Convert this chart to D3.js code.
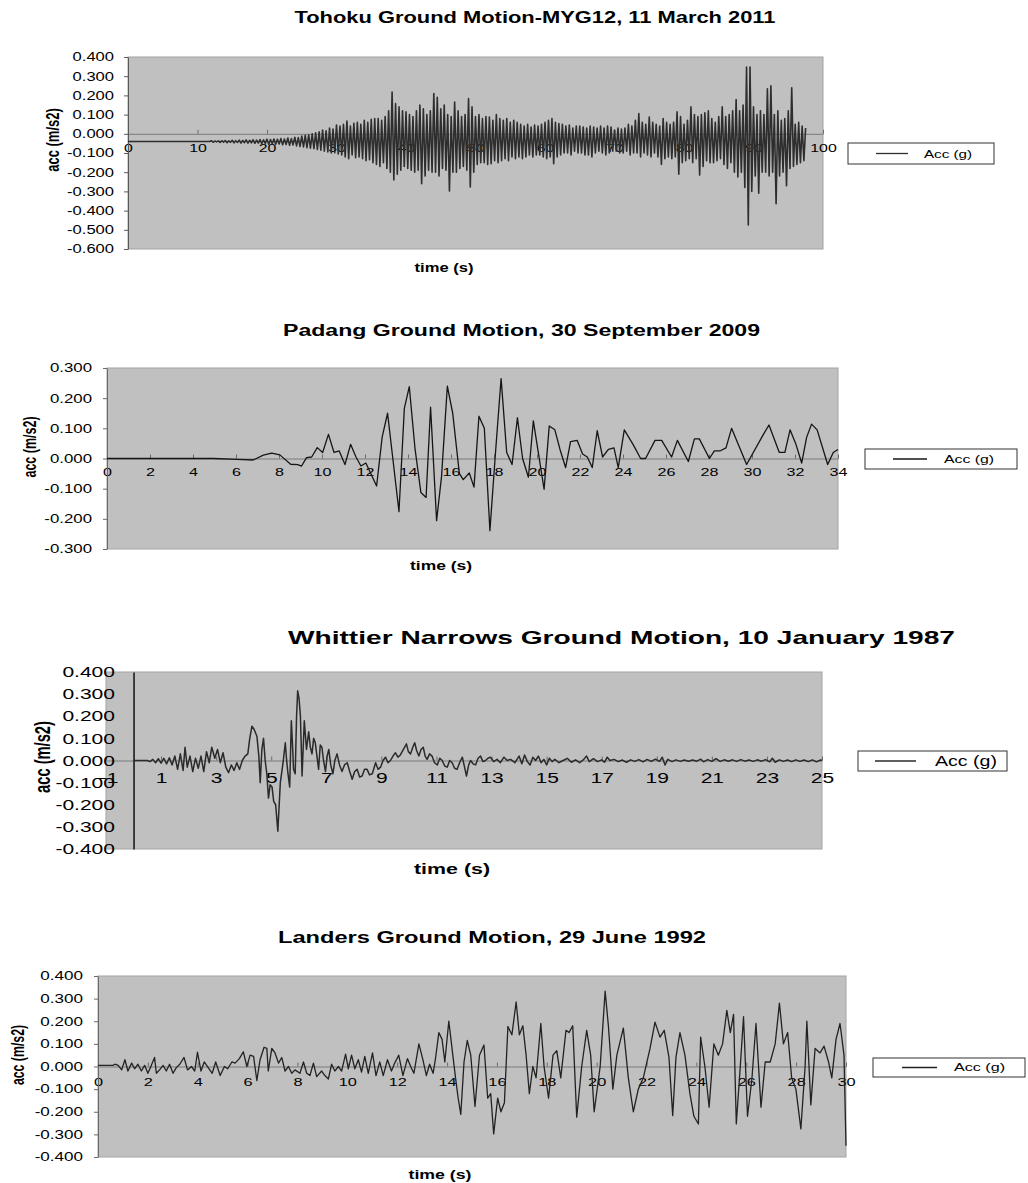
<!DOCTYPE html>
<html>
<head>
<meta charset="utf-8">
<script src="https://cdn.jsdelivr.net/npm/d3@7"></script>
<style>
  body { margin: 0; background: #fff; }
  svg { display: block; }
  text { font-family: "Liberation Sans", Arial, sans-serif; fill: #000; }
</style>
</head>
<body>
<svg id="fig" width="1028" height="1183"></svg>
<script>

// ---- Tohoku MYG12 record, sampled every 0.25 s from t = 0
var tohokuDt = 0.25;
var tohokuAcc = [
  -.04,-.04,-.04,-.04,-.04,-.04,-.04,-.04,
  -.04,-.04,-.04,-.04,-.04,-.04,-.04,-.04,
  -.04,-.04,-.04,-.04,-.04,-.04,-.04,-.04,
  -.04,-.04,-.04,-.04,-.04,-.04,-.04,-.04,
  -.04,-.04,-.04,-.04,-.04,-.04,-.04,-.04,
  -.04,-.04,-.04,-.04,-.04,-.04,-.04,-.04,
  -.036,-.044,-.038,-.042,-.037,-.045,-.036,-.043,
  -.035,-.046,-.037,-.044,-.034,-.047,-.036,-.045,
  -.033,-.048,-.035,-.046,-.032,-.049,-.034,-.047,
  -.031,-.05,-.033,-.048,-.03,-.052,-.032,-.05,
  -.028,-.054,-.03,-.052,-.027,-.055,-.029,-.053,
  -.025,-.057,-.027,-.056,-.022,-.06,-.025,-.058,
  -.018,-.063,-.02,-.066,-.012,-.068,-.008,-.072,
  -.005,-.075,0,-.078,.005,-.082,.01,-.085,
  .02,-.09,.015,-.095,.03,-.1,.025,-.098,
  .045,-.105,.04,-.11,.05,-.12,.067,-.13,
  .04,-.11,.055,-.125,.06,-.12,.05,-.13,
  .07,-.14,.06,-.135,.075,-.15,.08,-.16,
  .08,-.17,.07,-.15,.09,-.18,.12,-.2,
  .218,-.24,.157,-.21,.14,-.19,.12,-.17,
  .114,-.18,.1,-.19,.09,-.2,.12,-.19,
  .15,-.26,.13,-.22,.1,-.19,.12,-.2,
  .21,-.2,.19,-.22,.13,-.18,.15,-.19,
  .1,-.298,.09,-.2,.165,-.2,.12,-.18,
  .09,-.17,.1,-.19,.183,-.277,.14,-.2,
  .09,-.16,.1,-.15,.08,-.15,.09,-.16,
  .087,-.156,.07,-.14,.1,-.15,.08,-.14,
  .07,-.13,.08,-.14,.06,-.12,.07,-.13,
  .06,-.12,.05,-.13,.04,-.12,.05,-.11,
  .035,-.12,.045,-.11,.04,-.11,.05,-.12,
  .06,-.13,.07,-.12,.08,-.156,.06,-.12,
  .053,-.11,.05,-.1,.04,-.1,.045,-.11,
  .03,-.09,.04,-.1,.04,-.1,.035,-.11,
  .03,-.11,.04,-.12,.035,-.1,.03,-.09,
  .04,-.1,.03,-.11,.04,-.1,.035,-.09,
  .02,-.09,.03,-.1,.025,-.1,.03,-.09,
  .05,-.11,.04,-.1,.07,-.1,.105,-.12,
  .06,-.1,.05,-.11,.087,-.12,.06,-.1,
  .05,-.12,.04,-.16,.08,-.13,.06,-.12,
  .05,-.13,.06,-.12,.114,-.21,.09,-.15,
  .05,-.14,.07,-.13,.14,-.15,.1,-.13,
  .09,-.215,.1,-.17,.11,-.14,.12,-.15,
  .08,-.15,.06,-.14,.09,-.13,.14,-.16,
  .09,-.18,.1,-.15,.12,-.2,.178,-.225,
  .12,-.2,.15,-.28,.348,-.475,.348,-.3,
  .14,-.22,.1,-.31,.12,-.2,.1,-.2,
  .235,-.22,.25,-.2,.1,-.364,.12,-.22,
  .07,-.2,.08,-.27,.12,-.18,.24,-.17,
  .05,-.16,.06,-.15,.04,-.14,.03
];
var tohokuXTicks = [0, 10, 20, 30, 40, 50, 60, 70, 80, 90, 100];
var tohokuYTicks = [-0.6, -0.5, -0.4, -0.3, -0.2, -0.1, 0, 0.1, 0.2, 0.3, 0.4];

// ---- Padang record [time s, acc]
var padangRecord = [
  [0,0],[4.95,0],[6.05,-.003],[6.8,-.005],[7.27,.011],[7.66,.018],[8.04,.012],[8.54,-.019],
  [8.87,-.02],[9.05,-.025],[9.28,.003],[9.52,.005],[9.78,.036],[10.03,.02],[10.3,.08],[10.56,.02],
  [10.8,.025],[11.07,-.02],[11.33,.047],[11.58,.005],[11.81,-.025],[12.04,-.015],[12.54,-.091],[12.8,.072],
  [13.05,.15],[13.58,-.176],[13.83,.166],[14.06,.238],[14.33,.03],[14.6,-.113],[14.84,-.129],[15.05,.17],
  [15.33,-.206],[15.56,-.06],[15.83,.24],[16.08,.15],[16.39,-.05],[16.57,-.07],[16.85,-.048],[17.07,-.095],
  [17.3,.14],[17.55,.1],[17.81,-.239],[18.08,.03],[18.33,.265],[18.59,.02],[18.84,-.02],[19.09,.135],
  [19.33,0],[19.6,-.062],[19.83,.125],[20.06,.02],[20.33,-.102],[20.57,.108],[20.83,.095],[21.07,.03],
  [21.33,-.03],[21.56,.056],[21.87,.06],[22.12,.015],[22.34,.005],[22.57,-.03],[22.8,.092],[23.05,.005],
  [23.32,.03],[23.58,.035],[23.78,-.03],[24.06,.095],[24.48,.045],[24.82,0],[25.05,0],[25.49,.06],
  [25.8,.06],[26.26,.005],[26.53,.06],[27.04,-.01],[27.32,.065],[27.55,.065],[28.02,0],[28.25,.025],
  [28.51,.025],[28.79,.035],[29.05,.1],[29.75,-.02],[30.53,.08],[30.79,.111],[31.27,.02],[31.53,.02],
  [31.77,.095],[32.03,.05],[32.31,-.015],[32.54,.07],[32.77,.114],[33.03,.095],[33.52,-.02],[33.78,.02],
  [34,.03]
];
var padangXTicks = [0, 2, 4, 6, 8, 10, 12, 14, 16, 18, 20, 22, 24, 26, 28, 30, 32, 34];
var padangYTicks = [-0.3, -0.2, -0.1, 0, 0.1, 0.2, 0.3];

// ---- Whittier Narrows record [time s, acc]
var whittierRecord = [
  [0,0],[0.5,0],[0.6,-.005],[0.7,.005],[0.8,-.01],[0.9,.008],[1,-.012],[1.1,.01],[1.2,-.015],[1.3,.012],
  [1.4,-.02],[1.5,.02],[1.6,-.04],[1.7,.03],[1.8,-.045],[1.87,.06],[1.95,-.03],[2.05,.02],[2.15,-.05],[2.25,.01],
  [2.35,-.035],[2.45,.02],[2.55,-.05],[2.65,.04],[2.75,-.01],[2.84,.06],[2.95,.01],[3.05,.05],[3.15,-.01],[3.25,.035],
  [3.35,-.03],[3.45,-.055],[3.55,-.02],[3.65,-.045],[3.75,-.01],[3.85,-.04],[3.95,0],[4.05,.02],[4.15,.03],[4.22,.1],
  [4.3,.155],[4.38,.14],[4.48,.11],[4.55,.02],[4.6,-.1],[4.66,.05],[4.72,.1],[4.78,0],[4.84,-.06],[4.9,-.17],
  [4.96,-.11],[5.03,-.12],[5.09,-.185],[5.16,-.2],[5.24,-.32],[5.33,-.1],[5.43,-.01],[5.51,.08],[5.56,0],[5.6,-.05],
  [5.67,-.12],[5.73,.18],[5.78,.05],[5.81,-.04],[5.87,-.06],[5.92,.2],[5.96,.315],[6.01,.28],[6.06,.2],[6.12,-.07],
  [6.2,.18],[6.28,.05],[6.36,.13],[6.42,.06],[6.48,.03],[6.54,.1],[6.6,.08],[6.66,.02],[6.72,-.04],[6.78,.07],
  [6.84,.06],[6.9,0],[6.97,-.05],[7.03,.02],[7.09,.05],[7.16,-.02],[7.24,-.06],[7.31,0],[7.39,.03],[7.48,-.02],
  [7.57,-.05],[7.66,-.02],[7.76,-.01],[7.85,-.05],[7.94,-.085],[8.03,-.05],[8.12,-.04],[8.21,-.075],[8.3,-.07],[8.39,-.04],
  [8.48,-.04],[8.57,-.065],[8.67,-.06],[8.79,-.01],[8.88,-.04],[8.97,-.03],[9.06,0],[9.15,.015],[9.24,-.01],[9.33,0],
  [9.42,.02],[9.51,.035],[9.6,.015],[9.69,.025],[9.8,.05],[9.91,.075],[9.98,.04],[10.06,.03],[10.14,.06],[10.21,.08],
  [10.28,.045],[10.36,.02],[10.44,.05],[10.52,.06],[10.59,.02],[10.66,.005],[10.75,.03],[10.84,.02],[10.93,-.01],[11.03,-.02],
  [11.12,.01],[11.21,0],[11.3,-.025],[11.39,-.03],[11.48,0],[11.57,-.01],[11.66,-.035],[11.75,-.04],[11.84,-.01],[11.94,.015],
  [12.02,-.03],[12.09,-.07],[12.17,-.02],[12.24,0],[12.33,-.015],[12.42,-.02],[12.51,.01],[12.6,.02],[12.69,-.005],[12.78,0],
  [12.87,.01],[12.96,.015],[13.08,-.005],[13.2,.005],[13.32,-.01],[13.45,.015],[13.57,0],[13.69,.005],[13.85,-.01],[14,.02],
  [14.1,-.015],[14.2,.025],[14.3,-.005],[14.4,-.02],[14.5,.015],[14.6,0],[14.7,.02],[14.8,-.01],[14.9,.005],[15,-.02],
  [15.1,.01],[15.2,-.005],[15.3,.005],[15.45,-.01],[15.6,0],[15.75,.01],[15.9,-.008],[16.05,.003],[16.2,-.01],[16.35,.005],
  [16.45,.02],[16.55,-.005],[16.7,.008],[16.85,-.005],[17,.003],[17.1,-.008],[17.2,.015],[17.3,0],[17.45,.005],[17.6,-.005],
  [17.75,.002],[17.9,-.008],[18.05,.003],[18.2,-.004],[18.35,.004],[18.5,-.006],[18.65,.005],[18.8,-.004],[18.95,.006],[19.1,-.004],
  [19.2,.015],[19.3,-.02],[19.4,.005],[19.55,-.005],[19.7,.003],[19.85,-.004],[20,.002],[20.15,-.003],[20.3,.002],[20.45,-.003],
  [20.6,.006],[20.7,-.006],[20.85,.004],[21,-.004],[21.15,.008],[21.3,-.004],[21.45,.003],[21.6,-.003],[21.75,.003],[21.9,-.004],
  [22.05,.004],[22.2,-.003],[22.35,.002],[22.5,-.004],[22.65,.003],[22.8,-.003],[22.95,.004],[23.1,-.006],[23.2,.01],[23.3,-.008],
  [23.45,.003],[23.6,-.004],[23.75,.002],[23.9,-.005],[24.05,.003],[24.2,-.004],[24.35,.002],[24.5,-.005],[24.65,.003],[24.8,-.006],
  [24.95,.002],[25,0]
];
var whittierXTicks = [-1, 1, 3, 5, 7, 9, 11, 13, 15, 17, 19, 21, 23, 25];
var whittierYTicks = [-0.4, -0.3, -0.2, -0.1, 0, 0.1, 0.2, 0.3, 0.4];

// ---- Landers record [time s, acc]
var landersRecord = [
  [0,.005],[0.6,.005],[0.68,.01],[0.81,.005],[0.95,-.015],[1.08,.03],[1.2,-.02],[1.35,.015],[1.47,-.01],[1.6,.01],
  [1.74,-.02],[1.87,.005],[2,-.03],[2.14,.005],[2.27,.04],[2.34,-.03],[2.47,-.015],[2.61,.005],[2.74,-.02],[2.87,.01],
  [3.01,-.03],[3.14,-.005],[3.28,.01],[3.45,.04],[3.59,-.015],[3.75,0],[3.88,-.02],[3.99,.063],[4.13,-.02],[4.26,.02],
  [4.42,-.005],[4.58,-.03],[4.72,.02],[4.9,-.04],[5.07,0],[5.2,-.01],[5.37,.02],[5.5,.015],[5.67,.035],[5.83,.065],
  [5.97,0],[6.1,.05],[6.24,.045],[6.37,-.062],[6.5,.03],[6.66,.085],[6.77,.08],[6.83,-.02],[6.97,.08],[7.1,.06],
  [7.24,.015],[7.37,.04],[7.5,-.02],[7.64,0],[7.77,-.03],[7.9,-.015],[8.1,-.03],[8.24,.02],[8.37,-.03],[8.5,-.04],
  [8.64,.015],[8.77,-.045],[8.97,-.02],[9.1,-.04],[9.24,-.055],[9.37,.01],[9.5,-.02],[9.64,0],[9.77,-.02],[9.93,.055],
  [10.04,-.01],[10.17,.05],[10.3,-.01],[10.44,.03],[10.57,-.025],[10.7,.045],[10.84,-.03],[11.01,.06],[11.15,-.04],[11.3,.02],
  [11.44,-.04],[11.61,.03],[11.77,-.02],[11.9,.015],[12.06,.05],[12.23,-.04],[12.41,.035],[12.54,0],[12.67,-.03],[12.87,.1],
  [13.03,.03],[13.17,-.04],[13.3,.01],[13.44,-.03],[13.53,.03],[13.67,.15],[13.8,.12],[13.91,.02],[14.07,.2],[14.22,.06],
  [14.34,-.05],[14.44,-.136],[14.55,-.212],[14.68,.02],[14.81,.115],[14.95,.05],[15.12,-.177],[15.3,.05],[15.48,.095],[15.63,-.14],
  [15.75,-.12],[15.87,-.298],[16.03,-.14],[16.16,-.2],[16.3,-.16],[16.44,.177],[16.6,.14],[16.77,.285],[16.9,.14],[17.04,.18],
  [17.17,.05],[17.3,-.12],[17.44,0],[17.57,-.05],[17.76,.19],[17.89,0],[18.07,-.14],[18.25,.05],[18.4,.07],[18.56,-.05],
  [18.77,.16],[18.89,.15],[19.04,.18],[19.2,-.224],[19.4,0],[19.6,.16],[19.76,.05],[19.9,-.2],[20.14,0],[20.34,.333],
  [20.47,.18],[20.65,-.1],[20.81,.05],[21.07,.17],[21.27,-.05],[21.47,-.2],[21.67,-.1],[21.87,-.05],[22.14,.08],[22.34,.196],
  [22.54,.13],[22.71,.16],[22.9,.04],[23.05,-.217],[23.18,.04],[23.34,.15],[23.54,.05],[23.74,-.12],[23.9,-.22],[24.08,-.254],
  [24.17,.13],[24.34,0],[24.51,-.18],[24.7,.1],[24.88,.05],[25.05,.1],[25.22,.248],[25.36,.15],[25.49,.23],[25.6,-.254],
  [25.76,0],[25.89,.22],[26.05,-.22],[26.23,-.05],[26.39,.19],[26.59,-.18],[26.76,.02],[26.96,.02],[27.16,.1],[27.33,.28],
  [27.49,.1],[27.66,.15],[27.82,-.05],[27.99,-.1],[28.19,-.276],[28.36,0],[28.43,.2],[28.59,-.17],[28.76,.08],[28.96,.06],
  [29.12,.09],[29.3,.02],[29.43,-.05],[29.6,.12],[29.76,.19],[29.92,.05],[30,-.35]
];
var landersXTicks = [0, 2, 4, 6, 8, 10, 12, 14, 16, 18, 20, 22, 24, 26, 28, 30];
var landersYTicks = [-0.4, -0.3, -0.2, -0.1, 0, 0.1, 0.2, 0.3, 0.4];

var legendLabel = "Acc (g)";
var yTitleText = "acc (m/s2)";
var xTitleText = "time (s)";


var svg = d3.select("#fig");

// the source picture is stretched sideways, so every text is widened by sx
function stretch(sel, sx) {
  sel.each(function () {
    var w = this.getComputedTextLength();
    d3.select(this).attr("textLength", w * sx).attr("lengthAdjust", "spacingAndGlyphs");
  });
}

var fmtY = function (d) { return d3.format(".3f")(d).replace("\u2212", "-"); };

function drawChart(c) {
  var g = svg.append("g");
  var p = c.plot;

  var xscale = d3.scaleLinear().domain(c.xDomain).range([p.l, p.r]);
  var yscale = d3.scaleLinear().domain(c.yDomain).range([p.b, p.t]);

  // title
  g.append("text")
    .attr("x", c.title.x)
    .attr("y", c.title.y)
    .attr("text-anchor", "middle")
    .style("font-size", c.title.size + "px")
    .style("font-weight", "bold")
    .text(c.title.text)
    .attr("textLength", c.title.w)
    .attr("lengthAdjust", "spacingAndGlyphs");

  // plot area
  g.append("rect")
    .attr("x", p.l)
    .attr("y", p.t)
    .attr("width", p.r - p.l)
    .attr("height", p.b - p.t)
    .attr("fill", "#c0c0c0")
    .attr("stroke", "#a4a4a4")
    .attr("stroke-width", 1);

  // x axis sits on the zero line
  var xAxis = g.append("g")
    .attr("transform", "translate(0," + yscale(0) + ")")
    .call(d3.axisBottom(xscale)
      .tickValues(c.xTicks)
      .tickSizeInner(-4)
      .tickSizeOuter(0)
      .tickPadding(c.xLabelBase - 0.71 * c.xFont)
      .tickFormat(d3.format("d")));
  xAxis.select(".domain").attr("stroke", "#7a7a7a");
  xAxis.selectAll(".tick line").attr("stroke", "#6a6a6a");
  xAxis.selectAll("text")
    .style("font-size", c.xFont + "px")
    .style("font-family", "'Liberation Sans', Arial, sans-serif")
    .attr("fill", "#111")
    .call(stretch, c.sx);

  // y axis
  var ax0 = xscale(c.yAxisAt);
  var yAxis = g.append("g")
    .attr("transform", "translate(" + ax0 + ",0)")
    .call(d3.axisLeft(yscale)
      .tickValues(c.yTicks)
      .tickSizeInner(c.yTickLen)
      .tickSizeOuter(0)
      .tickPadding(ax0 - c.yLabelRight - c.yTickLen)
      .tickFormat(fmtY));
  yAxis.select(".domain").attr("stroke", c.yAxisColor).attr("stroke-width", c.yAxisWidth);
  yAxis.selectAll(".tick line").attr("stroke", c.yAxisColor);
  yAxis.selectAll("text")
    .style("font-size", c.yFont + "px")
    .style("font-family", "'Liberation Sans', Arial, sans-serif")
    .attr("fill", "#111")
    .call(stretch, c.sx);

  // record
  g.append("path")
    .datum(c.data)
    .attr("fill", "none")
    .attr("stroke", c.lineColor)
    .attr("stroke-width", c.lineWidth)
    .attr("stroke-linejoin", "round")
    .attr("d", d3.line()
      .x(function (d) { return xscale(d[0]); })
      .y(function (d) { return yscale(d[1]); }));

  // axis titles
  g.append("text")
    .attr("transform", "translate(" + c.yTitle.x + "," + c.yTitle.y + ") scale(" + c.sx + ",1) rotate(-90)")
    .attr("text-anchor", "middle")
    .attr("dy", "0.35em")
    .style("font-size", c.yTitle.size + "px")
    .style("font-weight", "bold")
    .text(yTitleText);

  g.append("text")
    .attr("x", c.xTitle.x)
    .attr("y", c.xTitle.y)
    .attr("text-anchor", "middle")
    .style("font-size", c.xTitle.size + "px")
    .style("font-weight", "bold")
    .text(xTitleText)
    .attr("textLength", c.xTitle.w)
    .attr("lengthAdjust", "spacingAndGlyphs");

  // legend
  var L = c.legend;
  g.append("rect")
    .attr("x", L.x)
    .attr("y", L.y)
    .attr("width", L.w)
    .attr("height", L.h)
    .attr("fill", "#fff")
    .attr("stroke", "#333")
    .attr("stroke-width", 1);
  g.append("line")
    .attr("x1", L.l1)
    .attr("x2", L.l2)
    .attr("y1", L.y + L.h / 2)
    .attr("y2", L.y + L.h / 2)
    .attr("stroke", c.lineColor)
    .attr("stroke-width", Math.min(c.lineWidth, 1.3));
  g.append("text")
    .attr("x", L.tx)
    .attr("y", L.ty)
    .style("font-size", L.size + "px")
    .text(legendLabel)
    .attr("textLength", L.tw)
    .attr("lengthAdjust", "spacingAndGlyphs");
}

var tohokuData = tohokuAcc.map(function (a, i) { return [i * tohokuDt, a]; });

drawChart({
  title: { text: "Tohoku Ground Motion-MYG12, 11 March 2011", x: 535, y: 23, size: 16, w: 481 },
  plot: { l: 128, t: 57, r: 823, b: 249 },
  xDomain: [0, 100], yDomain: [-0.6, 0.4],
  xTicks: tohokuXTicks, yTicks: tohokuYTicks, yAxisAt: 0,
  xFont: 11.5, yFont: 12, sx: 1.38, xLabelBase: 18.5, yLabelRight: 114, yTickLen: 4,
  yAxisColor: "#5a5a5a", yAxisWidth: 1,
  yTitle: { x: 53, y: 140, size: 13 },
  xTitle: { x: 444, y: 272, size: 12, w: 59 },
  legend: { x: 848, y: 143, w: 146, h: 21, l1: 876, l2: 908, tx: 924, ty: 157.5, size: 11, tw: 48 },
  data: tohokuData, lineColor: "#2e2e2e", lineWidth: 1.6
});

drawChart({
  title: { text: "Padang Ground Motion, 30 September 2009", x: 521.5, y: 335.5, size: 16, w: 477 },
  plot: { l: 107, t: 368, r: 838, b: 549 },
  xDomain: [0, 34], yDomain: [-0.3, 0.3],
  xTicks: padangXTicks, yTicks: padangYTicks, yAxisAt: 0,
  xFont: 11.5, yFont: 12, sx: 1.4, xLabelBase: 17.5, yLabelRight: 92, yTickLen: 4,
  yAxisColor: "#6a6a6a", yAxisWidth: 1,
  yTitle: { x: 30, y: 447, size: 12.5 },
  xTitle: { x: 441, y: 570, size: 12, w: 62 },
  legend: { x: 865, y: 449, w: 152, h: 20, l1: 893, l2: 927, tx: 944, ty: 463, size: 11, tw: 50 },
  data: padangRecord, lineColor: "#151515", lineWidth: 1.3
});

drawChart({
  title: { text: "Whittier Narrows Ground Motion, 10 January 1987", x: 621.5, y: 644, size: 19, w: 667 },
  plot: { l: 106, t: 672, r: 822, b: 849 },
  xDomain: [-1, 25], yDomain: [-0.4, 0.4],
  xTicks: whittierXTicks, yTicks: whittierYTicks, yAxisAt: 0,
  xFont: 14.5, yFont: 14.5, sx: 1.45, xLabelBase: 22, yLabelRight: 115, yTickLen: 0,
  yAxisColor: "#111", yAxisWidth: 1.5,
  yTitle: { x: 43, y: 757, size: 14.7 },
  xTitle: { x: 452, y: 874, size: 15, w: 76 },
  legend: { x: 858, y: 751, w: 149, h: 20, l1: 875, l2: 916, tx: 935, ty: 766, size: 14, tw: 62 },
  data: whittierRecord, lineColor: "#2a2a2a", lineWidth: 1.5
});

drawChart({
  title: { text: "Landers Ground Motion, 29 June 1992", x: 492, y: 943, size: 16, w: 428 },
  plot: { l: 98, t: 976, r: 846, b: 1157 },
  xDomain: [0, 30], yDomain: [-0.4, 0.4],
  xTicks: landersXTicks, yTicks: landersYTicks, yAxisAt: 0,
  xFont: 11.5, yFont: 12, sx: 1.42, xLabelBase: 19, yLabelRight: 83, yTickLen: 4,
  yAxisColor: "#6a6a6a", yAxisWidth: 1,
  yTitle: { x: 18, y: 1055, size: 12.3 },
  xTitle: { x: 440, y: 1179, size: 12, w: 63 },
  legend: { x: 873, y: 1058, w: 152, h: 19, l1: 902, l2: 937, tx: 954, ty: 1071, size: 11, tw: 51 },
  data: landersRecord, lineColor: "#222", lineWidth: 1.3
});

</script>
</body>
</html>
